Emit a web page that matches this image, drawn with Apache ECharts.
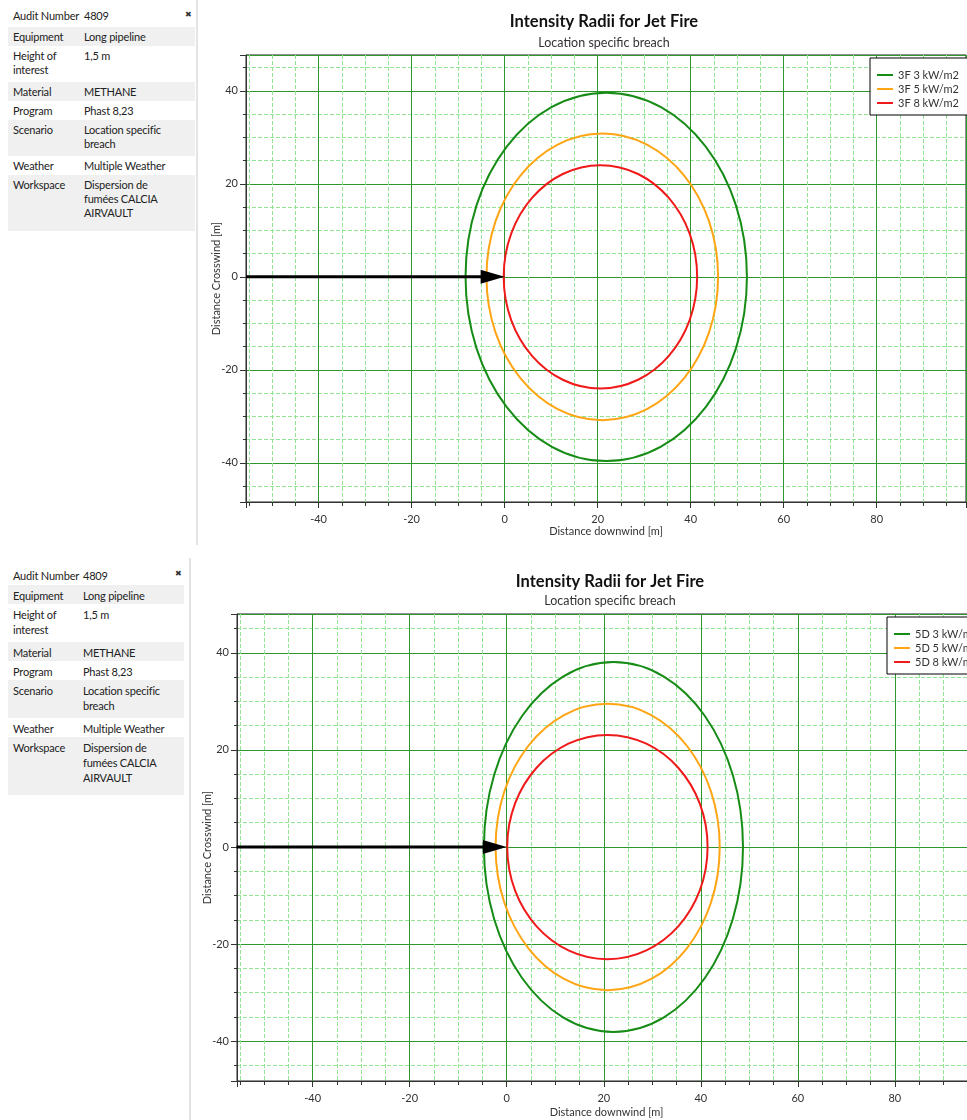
<!DOCTYPE html>
<html><head><meta charset="utf-8">
<script src="https://cdn.jsdelivr.net/npm/echarts@6/dist/echarts.min.js"></script>
<style>
html,body{margin:0;padding:0;background:#fff;overflow:hidden;}
#wrap{position:relative;width:967px;height:1120px;overflow:hidden;}
#chart{position:absolute;left:0;top:0;width:967px;height:1120px;}
.tbl{position:absolute;font-family:'Lato',sans-serif;font-size:11px;letter-spacing:-0.2px;color:#222;}
.row{position:relative;box-sizing:border-box;}
.row .k,.row .v{position:absolute;top:3px;white-space:pre-line;}
.close{position:absolute;font-family:'DejaVu Sans',sans-serif;font-size:8px;font-weight:bold;color:#333;}
.sep{position:absolute;background:#e4e4e4;}
</style></head>
<body>
<div id="wrap">
  <div id="chart"></div>
</div>
<script>
// ---------- data ----------
const infoLabels = ['Audit Number', 'Equipment', 'Height of\ninterest', 'Material', 'Program', 'Scenario', 'Weather', 'Workspace'];
const infoValues = ['4809', 'Long pipeline', '1,5 m', 'METHANE', 'Phast 8,23', 'Location specific\nbreach', 'Multiple Weather', 'Dispersion de\nfumées CALCIA\nAIRVAULT'];

const chartTitle = 'Intensity Radii for Jet Fire';
const chartSubtitle = 'Location specific breach';
const xAxisName = 'Distance downwind [m]';
const yAxisName = 'Distance Crosswind [m]';

const xRange = [-55.6, 99.2];
const yRange1 = [-48.4, 47.7];
const yRange2 = [-48.2, 48.0];

// panel 1 : weather 3F
const contourNames1 = ['3F 3 kW/m2', '3F 5 kW/m2', '3F 8 kW/m2'];
const downwindMin1 = [-8.4, -3.9, -0.2];
const downwindMax1 = [52.1, 45.9, 41.4];
const crosswindMax1 = [39.6, 30.8, 24.0];

// panel 2 : weather 5D
const contourNames2 = ['5D 3 kW/m2', '5D 5 kW/m2', '5D 8 kW/m2'];
const downwindMin2 = [-4.7, -2.3, 0.1];
const downwindMax2 = [48.7, 43.9, 41.4];
const crosswindMax2 = [38.1, 29.5, 23.1];

// release direction arrow (start downwind, start crosswind, end downwind, end crosswind)
const arrowPanel1 = [-55.6, 0, 0, 0];
const arrowPanel2 = [-55.7, 0, 0, 0];

const contourColors = ['#168c16', '#ffa514', '#f01a1a'];
const FONT = "'Lato', sans-serif";

// ---------- info tables ----------
function buildTable(top, left, width, keyW, closeX, lh, rowH) {
  const t = document.createElement('div');
  t.className = 'tbl';
  t.style.left = left + 'px'; t.style.top = top + 'px'; t.style.width = width + 'px';
  infoLabels.forEach((k, i) => {
    const v = infoValues[i];
    const lines = Math.max(k.split('\n').length, v.split('\n').length);
    const h = i === 0 ? rowH[0] : rowH[lines];
    const r = document.createElement('div');
    r.className = 'row';
    r.style.height = h + 'px';
    r.style.background = (i % 2 === 0) ? '#ffffff' : '#f0f0f0';
    const kd = document.createElement('div'); kd.className = 'k'; kd.style.left = '5px'; kd.textContent = k;
    const vd = document.createElement('div'); vd.className = 'v'; vd.style.left = keyW + 'px'; vd.textContent = v;
    kd.style.lineHeight = lh + 'px'; vd.style.lineHeight = lh + 'px';
    r.appendChild(kd); r.appendChild(vd);
    t.appendChild(r);
  });
  const pad = document.createElement('div');
  pad.className = 'row'; pad.style.height = '6px'; pad.style.background = '#f0f0f0';
  t.appendChild(pad);
  const c = document.createElement('div');
  c.className = 'close'; c.textContent = '✖';
  c.style.left = closeX + 'px'; c.style.top = '4px';
  t.appendChild(c);
  document.getElementById('wrap').appendChild(t);
}
buildTable(6, 8, 187, 76, 177, 14, [21, 19, 36, 50]);
buildTable(565, 8, 176, 75, 167, 15, [20, 19, 38, 52]);

function sep(x, y, h) {
  const s = document.createElement('div'); s.className = 'sep';
  s.style.left = x + 'px'; s.style.top = y + 'px'; s.style.width = '2px'; s.style.height = h + 'px';
  document.getElementById('wrap').appendChild(s);
}
sep(196, 0, 545);
sep(189, 558, 562);

// ---------- chart ----------
const chart = echarts.init(document.getElementById('chart'), null, {renderer: 'canvas'});

function xAxisCfg(gi, gap, namePad) {
  return {
    type: 'value', gridIndex: gi, min: xRange[0], max: xRange[1],
    minInterval: 20, maxInterval: 20, splitNumber: 8,
    name: xAxisName, nameLocation: 'middle', nameGap: gap, nameMoveOverlap: false,
    nameTextStyle: {color: '#333', fontSize: 11, fontFamily: FONT, padding: namePad},
    axisLine: {show: true, onZero: false, lineStyle: {color: '#333', width: 1}},
    axisTick: {show: true, inside: false, length: 6, lineStyle: {color: '#333'}},
    minorTick: {show: true, splitNumber: 4, length: 4, lineStyle: {color: '#333'}},
    axisLabel: {color: '#333', fontSize: 11, fontFamily: FONT, margin: 12, showMinLabel: false, showMaxLabel: false},
    splitLine: {show: true, lineStyle: {color: '#2f962f', width: 1}},
    minorSplitLine: {show: true, lineStyle: {color: '#93e493', width: 1, type: [4, 2]}}
  };
}
function yAxisCfg(gi, range) {
  return {
    type: 'value', gridIndex: gi, min: range[0], max: range[1],
    minInterval: 20, maxInterval: 20, splitNumber: 5,
    name: yAxisName, nameLocation: 'middle', nameGap: 24, nameMoveOverlap: false,
    nameTextStyle: {color: '#333', fontSize: 11, fontFamily: FONT},
    axisLine: {show: true, onZero: false, lineStyle: {color: '#333', width: 1}},
    axisTick: {show: true, inside: false, length: 6, lineStyle: {color: '#333'}},
    minorTick: {show: true, splitNumber: 4, length: 3, lineStyle: {color: '#333'}},
    axisLabel: {color: '#333', fontSize: 11, fontFamily: FONT, margin: 8, showMinLabel: false, showMaxLabel: false},
    splitLine: {show: true, lineStyle: {color: '#2f962f', width: 1}},
    minorSplitLine: {show: true, lineStyle: {color: '#93e493', width: 1, type: [4, 2]}}
  };
}

function ellipseRender(color) {
  return function (params, api) {
    const x0 = api.value(0), x1 = api.value(1), h = api.value(2);
    const L = api.coord([x0, 0]);
    const R = api.coord([x1, 0]);
    const T = api.coord([(x0 + x1) / 2, h]);
    return {
      type: 'ellipse',
      shape: {cx: (L[0] + R[0]) / 2, cy: L[1], rx: (R[0] - L[0]) / 2, ry: L[1] - T[1]},
      style: {fill: 'none', stroke: color, lineWidth: 2}
    };
  };
}
function arrowRender(params, api) {
  const S = api.coord([api.value(0), api.value(1)]);
  const E = api.coord([api.value(2), api.value(3)]);
  const headLen = 24, headHalf = 7;
  return {
    type: 'group',
    children: [
      {type: 'line', shape: {x1: S[0], y1: S[1], x2: E[0] - headLen + 2, y2: E[1]}, style: {stroke: '#000', lineWidth: 3}},
      {type: 'polygon', shape: {points: [[E[0] - headLen, E[1] - headHalf], [E[0], E[1]], [E[0] - headLen, E[1] + headHalf]]}, style: {fill: '#000'}}
    ]
  };
}

const series = [];
function addPanel(gi, names, mins, maxs, hs, arrow) {
  names.forEach((n, i) => {
    series.push({
      type: 'custom', name: n, xAxisIndex: gi, yAxisIndex: gi,
      data: [[mins[i], maxs[i], hs[i]]],
      encode: {x: [0, 1], y: 2},
      renderItem: ellipseRender(contourColors[i]),
      itemStyle: {color: contourColors[i]},
      silent: true, z: 3
    });
  });
  series.push({
    type: 'custom', name: 'release' + gi, xAxisIndex: gi, yAxisIndex: gi,
    data: [arrow], encode: {x: [0, 2], y: [1, 3]},
    renderItem: arrowRender, silent: true, z: 5
  });
}
addPanel(0, contourNames1, downwindMin1, downwindMax1, crosswindMax1, arrowPanel1);
addPanel(1, contourNames2, downwindMin2, downwindMax2, crosswindMax2, arrowPanel2);

function legendCfg(names, left, top) {
  return {
    orient: 'vertical', left: left, top: top,
    data: names.map(n => ({name: n, icon: 'rect'})),
    itemWidth: 16, itemHeight: 2, itemGap: 0,
    padding: [10, 11, 5, 7],
    borderColor: '#000', borderWidth: 1, backgroundColor: '#fff',
    textStyle: {color: '#333', fontSize: 11, fontFamily: FONT, lineHeight: 14},
    selectedMode: false
  };
}

const option = {
  animation: false,
  backgroundColor: 'transparent',
  title: [
    {text: chartTitle, subtext: chartSubtitle, left: 604, top: 12, textAlign: 'center', padding: 0, itemGap: 4,
     textStyle: {fontFamily: FONT, fontSize: 16.5, fontWeight: 'bold', color: '#111', lineHeight: 20},
     subtextStyle: {fontFamily: FONT, fontSize: 12.5, color: '#333', lineHeight: 14}},
    {text: chartTitle, subtext: chartSubtitle, left: 610, top: 572, textAlign: 'center', padding: 0, itemGap: 2,
     textStyle: {fontFamily: FONT, fontSize: 16.5, fontWeight: 'bold', color: '#111', lineHeight: 20},
     subtextStyle: {fontFamily: FONT, fontSize: 12.5, color: '#333', lineHeight: 14}}
  ],
  legend: [legendCfg(contourNames1, 870, 58), legendCfg(contourNames2, 887, 617)],
  grid: [
    {left: 246, top: 55, width: 720, height: 447, show: true, borderColor: '#222', borderWidth: 1, containLabel: false, outerBoundsMode: 'none'},
    {left: 237, top: 614, width: 751, height: 467, show: true, borderColor: '#222', borderWidth: 1, containLabel: false, outerBoundsMode: 'none'}
  ],
  xAxis: [xAxisCfg(0, 24, 0), xAxisCfg(1, 26, [0, 12, 0, 0])],
  yAxis: [yAxisCfg(0, yRange1), yAxisCfg(1, yRange2)],
  series: series
};
chart.setOption(option);
</script>
</body></html>
